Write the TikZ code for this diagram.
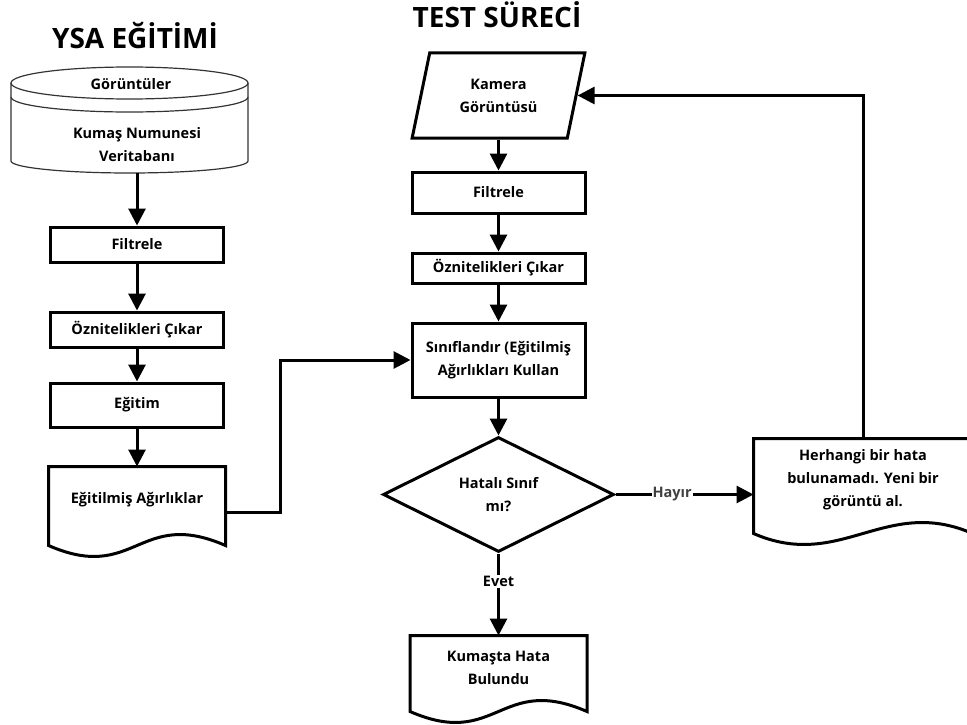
\documentclass[tikz,border=0pt]{standalone}
\usepackage{fontspec}
\setmainfont{Open Sans}
\usetikzlibrary{shapes.geometric, arrows.meta}

\begin{document}
\begin{tikzpicture}[x=1pt, y=-1pt, node distance=80pt,
        font=\bfseries\fontsize{14.5}{23}\selectfont,
        % styles
        process/.style = {
                rectangle, minimum width=173pt, minimum height=35pt,
                align=center, draw=black, line width=3pt
            },
        io/.style = {
                trapezium, trapezium left angle=75, trapezium right angle=105,
                trapezium stretches=true,
                minimum width=173pt, minimum height=85pt,
                align=center, draw=black, line width=3pt
            },
        decision/.style = {
                diamond, minimum width=231pt, minimum height=115pt, inner sep=0pt,
                align=center, draw=black, line width=3pt
            },
        docbox/.style = {
                rectangle, minimum width=174pt, minimum height=64pt,
                align=center, line width=3pt,
                append after command={
                    \pgfextra{
                        \draw [line width=3pt]
                            (\tikzlastnode.north west) -- (\tikzlastnode.north east)
                            -- ([yshift=-12pt]\tikzlastnode.south east)
                            .. controls +(-87,-38) and +(87,38) .. ([yshift=-12pt]\tikzlastnode.south west)
                            -- cycle;
                    }
                }
            },
        heading/.style = {font=\bfseries\fontsize{28}{32}\selectfont},
        dbline/.style = {draw=black!80, line width=1.2pt},
        arrow/.style = {
                line width=3pt, -{Triangle[length=17pt, width=17pt]}
            },
        edgelabel/.style = {fill=white, inner sep=1pt}]

    \useasboundingbox (0,0) rectangle (967,725);

    \node (ysa) [heading] at (135,36) {YSA EĞİTİMİ};
    \node (test) [heading] at (497,15) {TEST SÜRECİ};

    % database
    \draw [dbline] (129.5,83) ellipse [x radius=118.5pt, y radius=16pt];
    \draw [dbline] (11,97) arc [start angle=180, end angle=360, x radius=118.5pt, y radius=15pt];
    \draw [dbline] (11,83) -- (11,161) arc [start angle=180, end angle=360, x radius=118.5pt, y radius=12pt] -- (248,83);
    \node (dbtop) at (131,84) {Görüntüler};
    \node (db) [align=center] at (137,145) {Kumaş Numunesi\\Veritabanı};
    \coordinate (dbbottom) at (137,173);

    % left column
    \node (filtreA) [process] at (137,244.5) {Filtrele};
    \node (oznitA) [process, below of=filtreA, yshift=-5pt] {Öznitelikleri Çıkar};
    \node (egitim) [process, below of=oznitA, yshift=4.5pt, minimum height=44pt] {Eğitim};
    \node (agirlik) [docbox, below of=egitim, yshift=-15pt] {Eğitilmiş Ağırlıklar};
    \coordinate (bend) at (280,360);

    % right column
    \node (kamera) [io] at (498.5,95.5) {Kamera\\Görüntüsü};
    \node (filtreB) [process, below of=kamera, yshift=-17pt, minimum height=41pt] {Filtrele};
    \node (oznitB) [process, below of=filtreB, yshift=4.5pt, minimum height=30pt] {Öznitelikleri Çıkar};
    \node (sinif) [process, below of=oznitB, yshift=-12pt, minimum height=74pt] {Sınıflandır (Eğitilmiş\\Ağırlıkları Kullan};
    \node (karar) [decision, below of=sinif, yshift=-54.5pt] {Hatalı Sınıf\\mı?};
    \node (bulundu) [docbox, below of=karar, yshift=-93pt, minimum height=61pt] {Kumaşta Hata\\Bulundu};
    \node (hata) [docbox, right of=karar, xshift=284.5pt, yshift=14.5pt, minimum width=216pt, minimum height=80pt] {Herhangi bir hata\\bulunamadı. Yeni bir\\görüntü al.};

    % arrows
    \draw [arrow] (dbbottom) -- (filtreA);
    \draw [arrow] (filtreA) -- (oznitA);
    \draw [arrow] (oznitA) -- (egitim);
    \draw [arrow] (egitim) -- (agirlik);
    \draw [arrow] ([yshift=-12pt]agirlik.east) -| (bend) -- (sinif.west);
    \draw [arrow] (kamera) -- (filtreB);
    \draw [arrow] (filtreB) -- (oznitB);
    \draw [arrow] (oznitB) -- (sinif);
    \draw [arrow] (sinif) -- (karar);
    \draw [arrow] (karar) -- node[edgelabel, pos=0.34] {Evet} (bulundu);
    \draw [arrow] (karar.east) -- node[edgelabel, pos=0.41, text=black!75] {Hayır} (karar.east -| hata.west);
    \draw [arrow] (hata.north) |- (kamera.east);
\end{tikzpicture}
\end{document}
